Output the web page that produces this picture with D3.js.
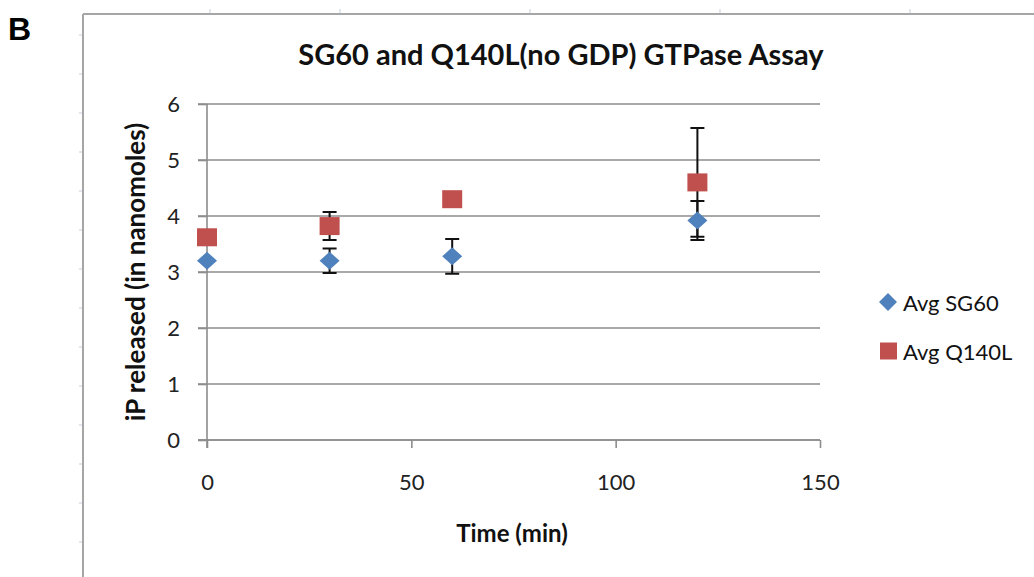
<!DOCTYPE html>
<html>
<head>
<meta charset="utf-8">
<script src="https://cdn.jsdelivr.net/npm/d3@7"></script>
<style>
  body { margin: 0; background: #fff; }
  text { font-family: Lato, "Open Sans", sans-serif; fill: #1a1a1a; }
</style>
</head>
<body>
<div id="canvas"></div>
<script>
width = 1034;
height = 577;

// data
var times = [0, 30, 60, 120];
var sg60 = [3.2, 3.2, 3.28, 3.92];
var sg60Err = [0.02, 0.22, 0.31, 0.35];
var q140l = [3.62, 3.82, 4.3, 4.6];
var q140lErr = [0.1, 0.25, 0.1, 0.97];
var xTicks = [0, 50, 100, 150];
var yTicks = [0, 1, 2, 3, 4, 5, 6];
var seriesNames = ["Avg SG60", "Avg Q140L"];
var seriesColors = ["#4f81bd", "#c0504d"];

function createCanvas(select, width, height, color) {
  return d3
    .select(select)
    .append("svg")
    .attr("width", width)
    .attr("height", height)
    .style("background-color", color);
}

var canvas = createCanvas("#canvas", width, height, "white");

// panel frame like a spreadsheet edge
canvas.append("line")
  .attr("x1", 83).attr("x2", 83).attr("y1", 14).attr("y2", height)
  .attr("stroke", "#a6a6a6").attr("stroke-width", 2);
canvas.append("line")
  .attr("x1", 83).attr("x2", width).attr("y1", 14).attr("y2", 14)
  .attr("stroke", "#a6a6a6").attr("stroke-width", 2);
// little ruler ticks on the frame
canvas.selectAll(".ltick")
  .data(d3.range(35, height, 39))
  .join("line")
  .attr("class", "ltick")
  .attr("x1", 79).attr("x2", 82)
  .attr("y1", function (d) { return d; })
  .attr("y2", function (d) { return d; })
  .attr("stroke", "#c5cfdc");
canvas.selectAll(".ttick")
  .data([210, 340, 530, 720, 910])
  .join("line")
  .attr("class", "ttick")
  .attr("y1", 9).attr("y2", 13)
  .attr("x1", function (d) { return d; })
  .attr("x2", function (d) { return d; })
  .attr("stroke", "#c5cfdc");

canvas.append("text")
  .attr("x", 8).attr("y", 40)
  .style("font-family", "'Liberation Sans', Arial, sans-serif")
  .style("font-size", "32px")
  .style("font-weight", "bold")
  .style("fill", "#000")
  .text("B");

var x = d3.scaleLinear().domain([0, 150]).range([207, 820]);
var y = d3.scaleLinear().domain([0, 6]).range([440, 104]);

// gridlines
canvas.selectAll(".grid")
  .data(yTicks)
  .join("line")
  .attr("class", "grid")
  .attr("x1", 198).attr("x2", x(150))
  .attr("y1", function (d) { return y(d); })
  .attr("y2", function (d) { return y(d); })
  .attr("stroke", "#8c8c8c")
  .attr("stroke-width", 1.6);

// y axis
var yAxis = canvas.append("g")
  .attr("transform", "translate(" + x(0) + ",0)")
  .call(d3.axisLeft(y).tickValues(yTicks).tickFormat(d3.format("d"))
    .tickSize(9).tickPadding(18));
yAxis.select(".domain").attr("stroke", "#8c8c8c").attr("stroke-width", 1.6)
  .attr("d", "M0," + y(6) + "V" + (y(0) + 8));
yAxis.selectAll(".tick line").attr("stroke", "#8c8c8c").attr("stroke-width", 1.6);
yAxis.selectAll("text").style("font-size", "22px").style("fill", "#222")
  .style("font-family", "Lato, sans-serif");

// x axis
var xAxis = canvas.append("g")
  .attr("transform", "translate(0," + y(0) + ")")
  .call(d3.axisBottom(x).tickValues(xTicks).tickSize(8).tickPadding(26));
xAxis.select(".domain").attr("stroke", "#8c8c8c").attr("stroke-width", 1.6)
  .attr("d", "M198,0H" + x(150));
xAxis.selectAll(".tick line").attr("stroke", "#8c8c8c").attr("stroke-width", 1.6);
xAxis.selectAll("text").style("font-size", "22px").style("fill", "#222")
  .style("font-family", "Lato, sans-serif");

// error bars
function drawErrors(vals, errs, cls) {
  var data = times.map(function (t, i) { return { t: t, v: vals[i], e: errs[i] }; });
  canvas.selectAll("." + cls)
    .data(data)
    .join("path")
    .attr("class", cls)
    .attr("fill", "none")
    .attr("stroke", "#111")
    .attr("stroke-width", 2)
    .attr("d", function (d) {
      var cx = x(d.t), hi = y(d.v + d.e), lo = y(d.v - d.e);
      return "M" + cx + "," + hi + "V" + lo +
        "M" + (cx - 7) + "," + hi + "H" + (cx + 7) +
        "M" + (cx - 7) + "," + lo + "H" + (cx + 7);
    });
}
drawErrors(q140l, q140lErr, "errQ");
drawErrors(sg60, sg60Err, "errS");

// markers
canvas.selectAll(".sq")
  .data(times)
  .join("rect")
  .attr("class", "sq")
  .attr("x", function (d) { return x(d) - 10; })
  .attr("y", function (d, i) { return y(q140l[i]) - 9; })
  .attr("width", 20)
  .attr("height", 18)
  .attr("fill", seriesColors[1]);

var diamond = "M0,-9L10,0L0,9L-10,0Z";
canvas.selectAll(".dia")
  .data(times)
  .join("path")
  .attr("class", "dia")
  .attr("transform", function (d, i) {
    return "translate(" + x(d) + "," + y(sg60[i]) + ")";
  })
  .attr("d", diamond)
  .attr("fill", seriesColors[0]);

// titles
canvas.append("text")
  .attr("x", 561).attr("y", 65)
  .attr("text-anchor", "middle")
  .style("font-size", "29px").style("font-weight", "bold")
  .style("fill", "#111")
  .text("SG60 and Q140L(no GDP) GTPase Assay");

canvas.append("text")
  .attr("x", 512).attr("y", 542)
  .attr("text-anchor", "middle")
  .style("font-size", "24px").style("font-weight", "bold")
  .style("fill", "#111")
  .text("Time (min)");

canvas.append("text")
  .attr("transform", "translate(145,272) rotate(-90)")
  .attr("text-anchor", "middle")
  .style("font-size", "26px").style("font-weight", "bold")
  .style("fill", "#111")
  .text("iP released (in nanomoles)");

// legend
var legendY = [302, 351];
canvas.append("path")
  .attr("transform", "translate(888," + legendY[0] + ")")
  .attr("d", "M0,-9L9,0L0,9L-9,0Z")
  .attr("fill", seriesColors[0]);
canvas.append("rect")
  .attr("x", 880).attr("y", legendY[1] - 8.5)
  .attr("width", 17).attr("height", 17)
  .attr("fill", seriesColors[1]);
canvas.selectAll(".leg")
  .data(seriesNames)
  .join("text")
  .attr("class", "leg")
  .attr("x", 903)
  .attr("y", function (d, i) { return legendY[i] + 9; })
  .style("font-size", "22px")
  .style("fill", "#111")
  .text(function (d) { return d; });
</script>
</body>
</html>
